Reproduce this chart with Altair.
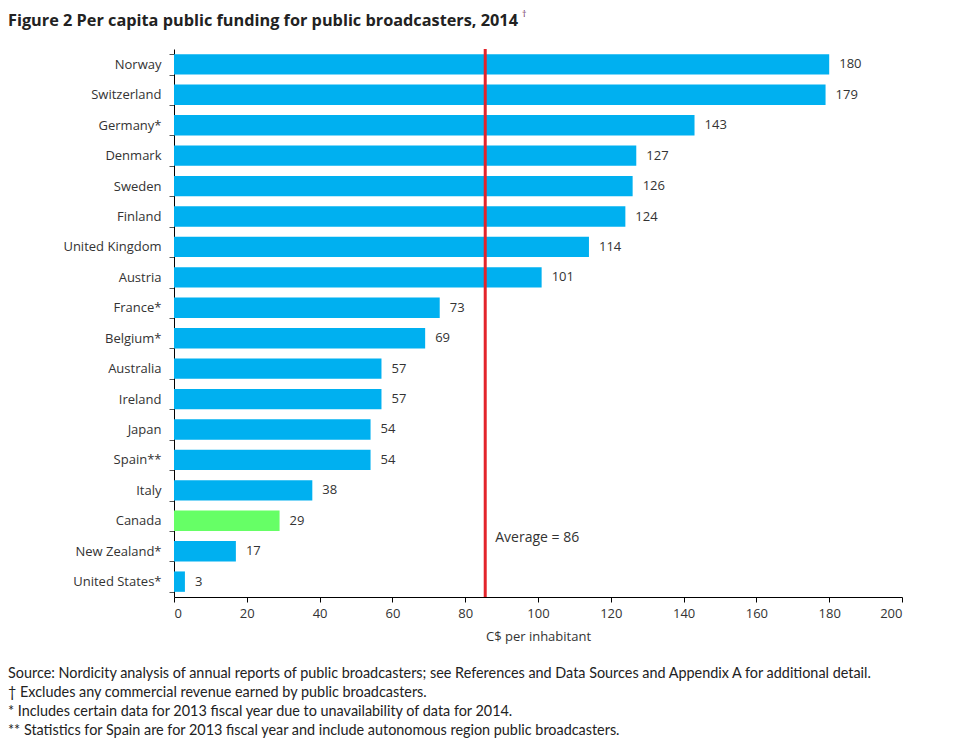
import altair as alt
import pandas as pd

countries = ["Norway", "Switzerland", "Germany*", "Denmark", "Sweden", "Finland",
             "United Kingdom", "Austria", "France*", "Belgium*", "Australia", "Ireland",
             "Japan", "Spain**", "Italy", "Canada", "New Zealand*", "United States*"]
values = [180, 179, 143, 127, 126, 124, 114, 101, 73, 69, 57, 57, 54, 54, 38, 29, 17, 3]
average = 86
average_line = 85.5

title_text = "Figure 2 Per capita public funding for public broadcasters, 2014"
footnotes = [
    "Source: Nordicity analysis of annual reports of public broadcasters; see References and Data Sources and Appendix A for additional detail.",
    "\u2020 Excludes any commercial revenue earned by public broadcasters.",
    "* Includes certain data for 2013 fiscal year due to unavailability of data for 2014.",
    "** Statistics for Spain are for 2013 fiscal year and include autonomous region public broadcasters.",
]

df = pd.DataFrame({"country": countries, "value": values})
df["hl"] = ["Canada" if c == "Canada" else "Other" for c in countries]

W, H = 728, 548
FONT = "Open Sans"

x_enc = alt.X("value:Q", scale=alt.Scale(domain=[0, 200]),
              axis=alt.Axis(values=list(range(0, 201, 20)), title="C$ per inhabitant",
                            grid=False, domainColor="#000", tickColor="#000", tickSize=5,
                            labelFont=FONT, labelFontSize=13, labelColor="#333",
                            labelPadding=5, titleFont=FONT, titleFontSize=13,
                            titleFontWeight="normal", titleColor="#333", titlePadding=10))
y_enc = alt.Y("country:N", sort=countries, scale=alt.Scale(paddingInner=0.33, paddingOuter=0.17),
              axis=alt.Axis(title=None, tickBand="extent", domainColor="#000", tickColor="#555",
                            tickSize=5, labelFont=FONT, labelFontSize=13, labelColor="#333",
                            labelPadding=8))

base = alt.Chart(df)
bars = base.mark_bar().encode(
    x=x_enc, y=y_enc,
    color=alt.Color("hl:N", scale=alt.Scale(domain=["Other", "Canada"], range=["#00b0f0", "#66ff66"]),
                    legend=None),
)
labels = base.mark_text(align="left", dx=10, font=FONT, fontSize=13, color="#333").encode(
    x="value:Q", y=alt.Y("country:N", sort=countries), text="value:Q")

avg_df = pd.DataFrame({"avg": [average_line], "label": [f"Average = {average}"]})
rule = alt.Chart(avg_df).mark_rule(color="#e3242b", strokeWidth=3).encode(
    x="avg:Q", y=alt.value(0), y2=alt.value(H))
avg_text = alt.Chart(avg_df).mark_text(align="left", dx=10, font=FONT, fontSize=14, color="#333").encode(
    x="avg:Q", y=alt.value(489), text="label:N")

fn_layers = []
for i, t in enumerate(footnotes):
    fn_layers.append(
        alt.Chart(pd.DataFrame({"text": [t]})).mark_text(
            align="left", baseline="middle", font="Lato", fontSize=14.4, color="#222"
        ).encode(x=alt.value(-166), y=alt.value(H + 77 + i * 19), text="text:N")
    )

title = alt.Chart(pd.DataFrame({"t": [title_text]})).mark_text(
    align="left", baseline="middle", font=FONT, fontSize=16.3, fontWeight="bold", color="#222"
).encode(x=alt.value(-166), y=alt.value(-28), text="t:N")

dagger = alt.Chart(pd.DataFrame({"t": ["\u2020"]})).mark_text(
    align="left", baseline="middle", font=FONT, fontSize=9, color="#6a2050"
).encode(x=alt.value(348), y=alt.value(-35), text="t:N")

chart = alt.layer(bars, labels, rule, avg_text, title, dagger, *fn_layers).properties(
    width=W, height=H,
    padding={"left": 0, "top": 2, "right": 10, "bottom": 0},
).configure_view(stroke=None)

chart.save("out.html", embed_options={"renderer": "svg", "actions": False})
